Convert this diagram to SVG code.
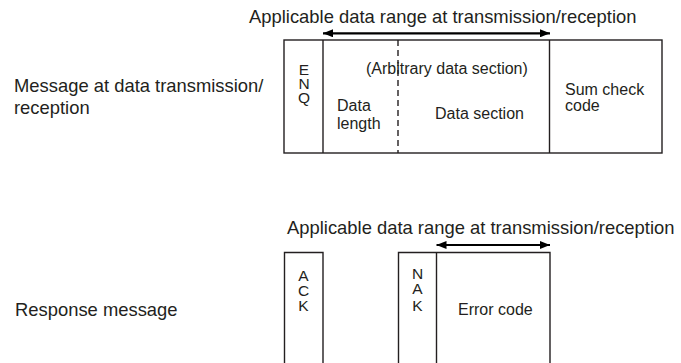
<svg xmlns="http://www.w3.org/2000/svg" width="681" height="363" viewBox="0 0 681 363">
<style>
text{font-family:"Liberation Sans",Arial,sans-serif;fill:#231f20}
.lbl{font-size:18.4px}
.box{font-size:16px}
.v{font-size:15.5px;text-anchor:middle}
.frame{fill:none;stroke:#231f20;stroke-width:1.4}
.arrow{stroke:#000;stroke-width:2.2;fill:none}
</style>
<defs>
<marker id="ah" viewBox="0 0 10 8" refX="10" refY="4" markerWidth="10" markerHeight="8" markerUnits="userSpaceOnUse" orient="auto-start-reverse">
<path d="M0,0L10,4L0,8z" fill="#000"/>
</marker>
</defs>
<g id="labels">
<text class="lbl" x="14" y="92">Message at data transmission/</text>
<text class="lbl" x="14" y="113.5">reception</text>
<text class="lbl" x="15" y="316">Response message</text>
<text class="lbl" x="249" y="23">Applicable data range at transmission/reception</text>
<text class="lbl" x="287" y="234">Applicable data range at transmission/reception</text>
</g>
<g id="message">
<rect class="frame" x="284" y="40" width="378" height="113"/>
<line class="frame" x1="323" y1="40" x2="323" y2="153"/>
<line class="frame" x1="549.5" y1="40" x2="549.5" y2="153"/>
<line class="frame" x1="398" y1="40" x2="398" y2="153" stroke-dasharray="6,4" stroke-width="1.1"/>
<text class="v"><tspan x="304" y="74.5">E</tspan><tspan x="304" y="89">N</tspan><tspan x="304" y="102.5">Q</tspan></text>
<text class="box" x="366" y="73.5">(Arbitrary data section)</text>
<text class="box" x="337" y="111">Data</text>
<text class="box" x="337" y="128.5">length</text>
<text class="box" x="435" y="118.5">Data section</text>
<text class="box" x="565" y="94.5">Sum check</text>
<text class="box" x="565" y="111">code</text>
</g>
<g id="ack">
<path class="frame" d="M284.5,370V252.5H323V370"/>
<text class="v"><tspan x="303.5" y="280.7">A</tspan><tspan x="303.5" y="295.7">C</tspan><tspan x="303.5" y="310.7">K</tspan></text>
</g>
<g id="nak">
<path class="frame" d="M398.5,370V252.5H550V370"/>
<line class="frame" x1="436.5" y1="252.5" x2="436.5" y2="370"/>
<text class="v"><tspan x="417.5" y="279.3">N</tspan><tspan x="417.5" y="294.3">A</tspan><tspan x="417.5" y="310.5">K</tspan></text>
<text class="box" x="458" y="315">Error code</text>
</g>
<g id="connectors">
<line class="arrow" x1="323" y1="33.3" x2="550" y2="33.3" marker-start="url(#ah)" marker-end="url(#ah)"/>
<line class="arrow" x1="436.5" y1="245" x2="550" y2="245" marker-start="url(#ah)" marker-end="url(#ah)"/>
</g>
</svg>
